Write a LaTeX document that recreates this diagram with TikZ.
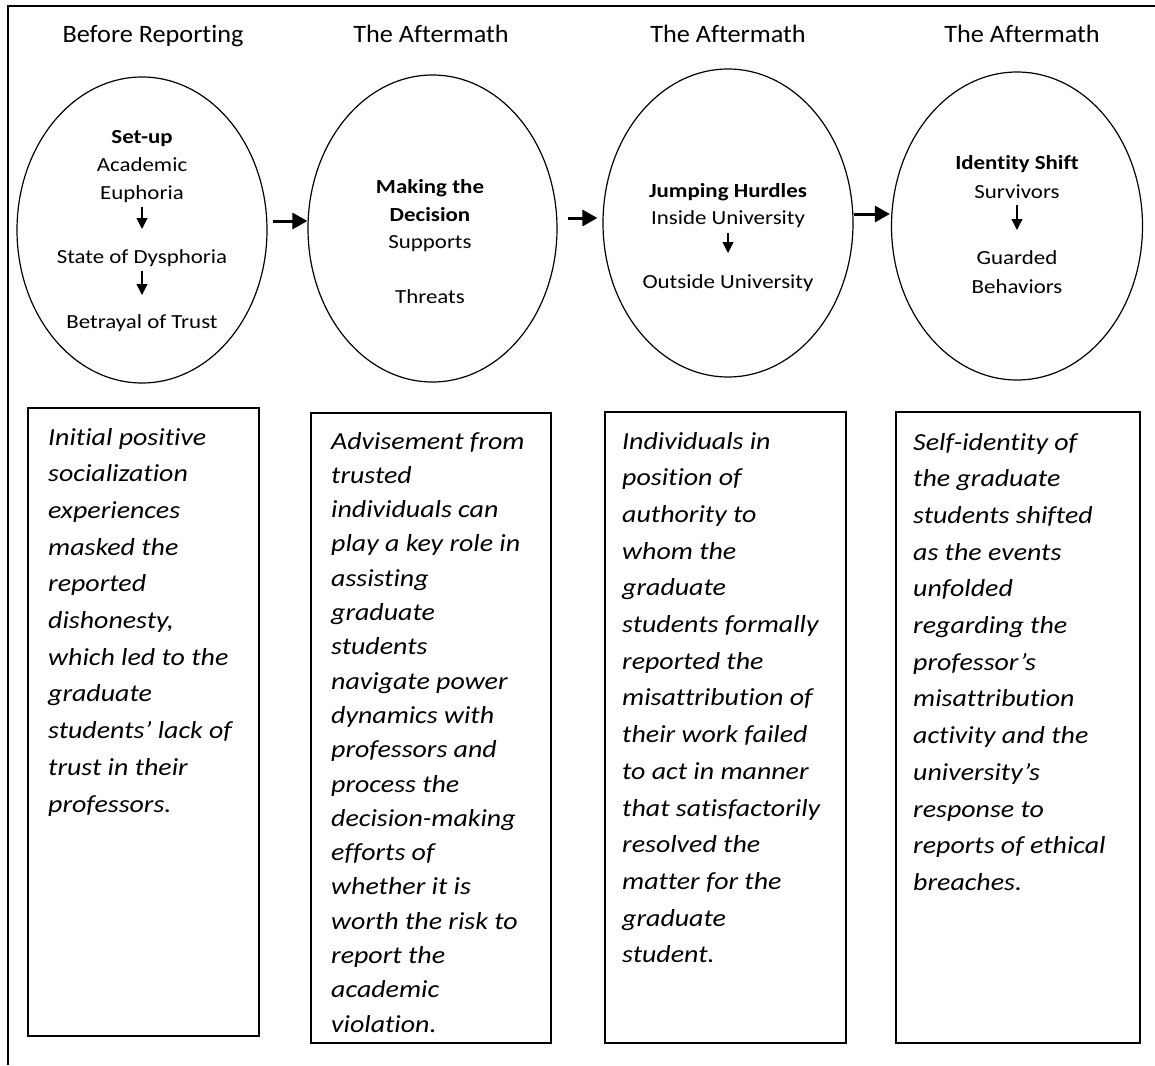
\documentclass[tikz,border=0pt]{standalone}
\usepackage{fontspec}
\setmainfont{Carlito}
\newfontfamily\headfont[FakeStretch=1.05,Ligatures=NoCommon]{Carlito}
\newfontfamily\ovalfont[FakeStretch=1.145,Ligatures=NoCommon]{Carlito}
\newfontfamily\panelfont[FakeStretch=1.14,Ligatures=NoCommon]{Carlito}
\usetikzlibrary{shapes.geometric,arrows.meta,calc}
\begin{document}
\begin{tikzpicture}[x=1pt,y=-1pt,
  head/.style={font=\headfont\fontsize{25}{30}\selectfont, anchor=base, inner sep=0},
  etxt/.style={font=\ovalfont\fontsize{20}{24}\selectfont, anchor=base, inner sep=0},
  ebold/.style={font=\ovalfont\fontsize{20}{24}\selectfont\bfseries, anchor=base, inner sep=0},
  oval/.style={ellipse, draw, line width=1.2pt, inner sep=0},
  panel/.style={draw, line width=1.2pt, inner sep=0},
  btxt/.style={font=\panelfont\fontsize{24.5}{30}\selectfont\itshape, anchor=base west, inner sep=0},
  bigarrow/.style={line width=3pt, -{Triangle[length=15pt,width=16pt]}},
  smallarrow/.style={line width=1.1pt, -{Triangle[length=11pt,width=11pt]}}
]
\useasboundingbox (0,0) rectangle (1155,1065);
% frame
\draw[line width=1.6pt] (8,1065) -- (8,6) -- (1155,6);

% headers
\node[head] (h1) at (153,43) {Before Reporting};
\node[head] (h2) at (431,43) {The Aftermath};
\node[head] (h3) at (728,43) {The Aftermath};
\node[head] (h4) at (1022,43) {The Aftermath};

% ellipses
\node[oval, minimum width=250pt, minimum height=306pt] (e1) at (142,230) {};
\node[oval, minimum width=249pt, minimum height=307pt] (e2) at (432.5,228.5) {};
\node[oval, minimum width=250pt, minimum height=308pt] (e3) at (728,223) {};
\node[oval, minimum width=251pt, minimum height=308pt] (e4) at (1017,226) {};

% ellipse 1 text
\node[ebold] (s1) at (142,143) {Set-up};
\node[etxt] (s2) at (142,171) {Academic};
\node[etxt] (s3) at (142,199) {Euphoria};
\node[etxt] (s4) at (142,263) {State of Dysphoria};
\node[etxt] (s5) at (142,328) {Betrayal of Trust};
\coordinate (a1s) at (142,207); \coordinate (a1e) at (142,229);
\coordinate (a2s) at (142,271); \coordinate (a2e) at (142,295);
\draw[smallarrow] (a1s) -- (a1e);
\draw[smallarrow] (a2s) -- (a2e);

% ellipse 2 text
\node[ebold] (m1) at (430,193) {Making the};
\node[ebold] (m2) at (430,221) {Decision};
\node[etxt] (m3) at (430,248) {Supports};
\node[etxt] (m4) at (430,303) {Threats};

% ellipse 3 text
\node[ebold] (j1) at (728,197) {Jumping Hurdles};
\node[etxt] (j2) at (728,224) {Inside University};
\node[etxt] (j3) at (728,288) {Outside University};
\coordinate (a3s) at (728,233); \coordinate (a3e) at (728,253);
\draw[smallarrow] (a3s) -- (a3e);

% ellipse 4 text
\node[ebold] (i1) at (1017,169) {Identity Shift};
\node[etxt] (i2) at (1017,198) {Survivors};
\node[etxt] (i3) at (1017,264) {Guarded};
\node[etxt] (i4) at (1017,293) {Behaviors};
\coordinate (a4s) at (1017,205); \coordinate (a4e) at (1017,230);
\draw[smallarrow] (a4s) -- (a4e);

% big arrows
\draw[bigarrow] ($(e1.east)+(5,-9)$) -- ($(e2.west)+(0,-7.5)$);
\draw[bigarrow] ($(e2.east)+(10,-10.5)$) -- ($(e3.west)+(-5,-5)$);
\draw[bigarrow] ($(e3.east)+(0,-9)$) -- ($(e4.west)+(-1,-12)$);

% panels
\node[panel, minimum width=231pt, minimum height=628pt] (b1) at (143.5,722) {};
\node[panel, minimum width=240pt, minimum height=630pt] (b2) at (431,728) {};
\node[panel, minimum width=241pt, minimum height=631pt] (b3) at (725.5,727.5) {};
\node[panel, minimum width=244pt, minimum height=631pt] (b4) at (1018,727.5) {};

\foreach \t [count=\i] in {Initial positive, socialization, experiences, masked the, reported, {dishonesty,}, which led to the, graduate, students’ lack of, trust in their, professors.}
  \node[btxt] (p1-\i) at (48,{445+(\i-1)*36.7}) {\t};

\foreach \t [count=\i] in {Advisement from, trusted, individuals can, play a key role in, assisting, graduate, students, navigate power, dynamics with, professors and, process the, decision-making, efforts of, whether it is, worth the risk to, report the, academic, violation.}
  \node[btxt] (p2-\i) at (331,{449+(\i-1)*34.3}) {\t};

\foreach \t [count=\i] in {Individuals in, position of, authority to, whom the, graduate, students formally, reported the, misattribution of, their work failed, to act in manner, that satisfactorily, resolved the, matter for the, graduate, student.}
  \node[btxt] (p3-\i) at (622,{449+(\i-1)*36.7}) {\t};

\foreach \t [count=\i] in {Self-identity of, the graduate, students shifted, as the events, unfolded, regarding the, professor’s, misattribution, activity and the, university’s, response to, reports of ethical, breaches.}
  \node[btxt] (p4-\i) at (913,{450+(\i-1)*36.7}) {\t};
\end{tikzpicture}
\end{document}
